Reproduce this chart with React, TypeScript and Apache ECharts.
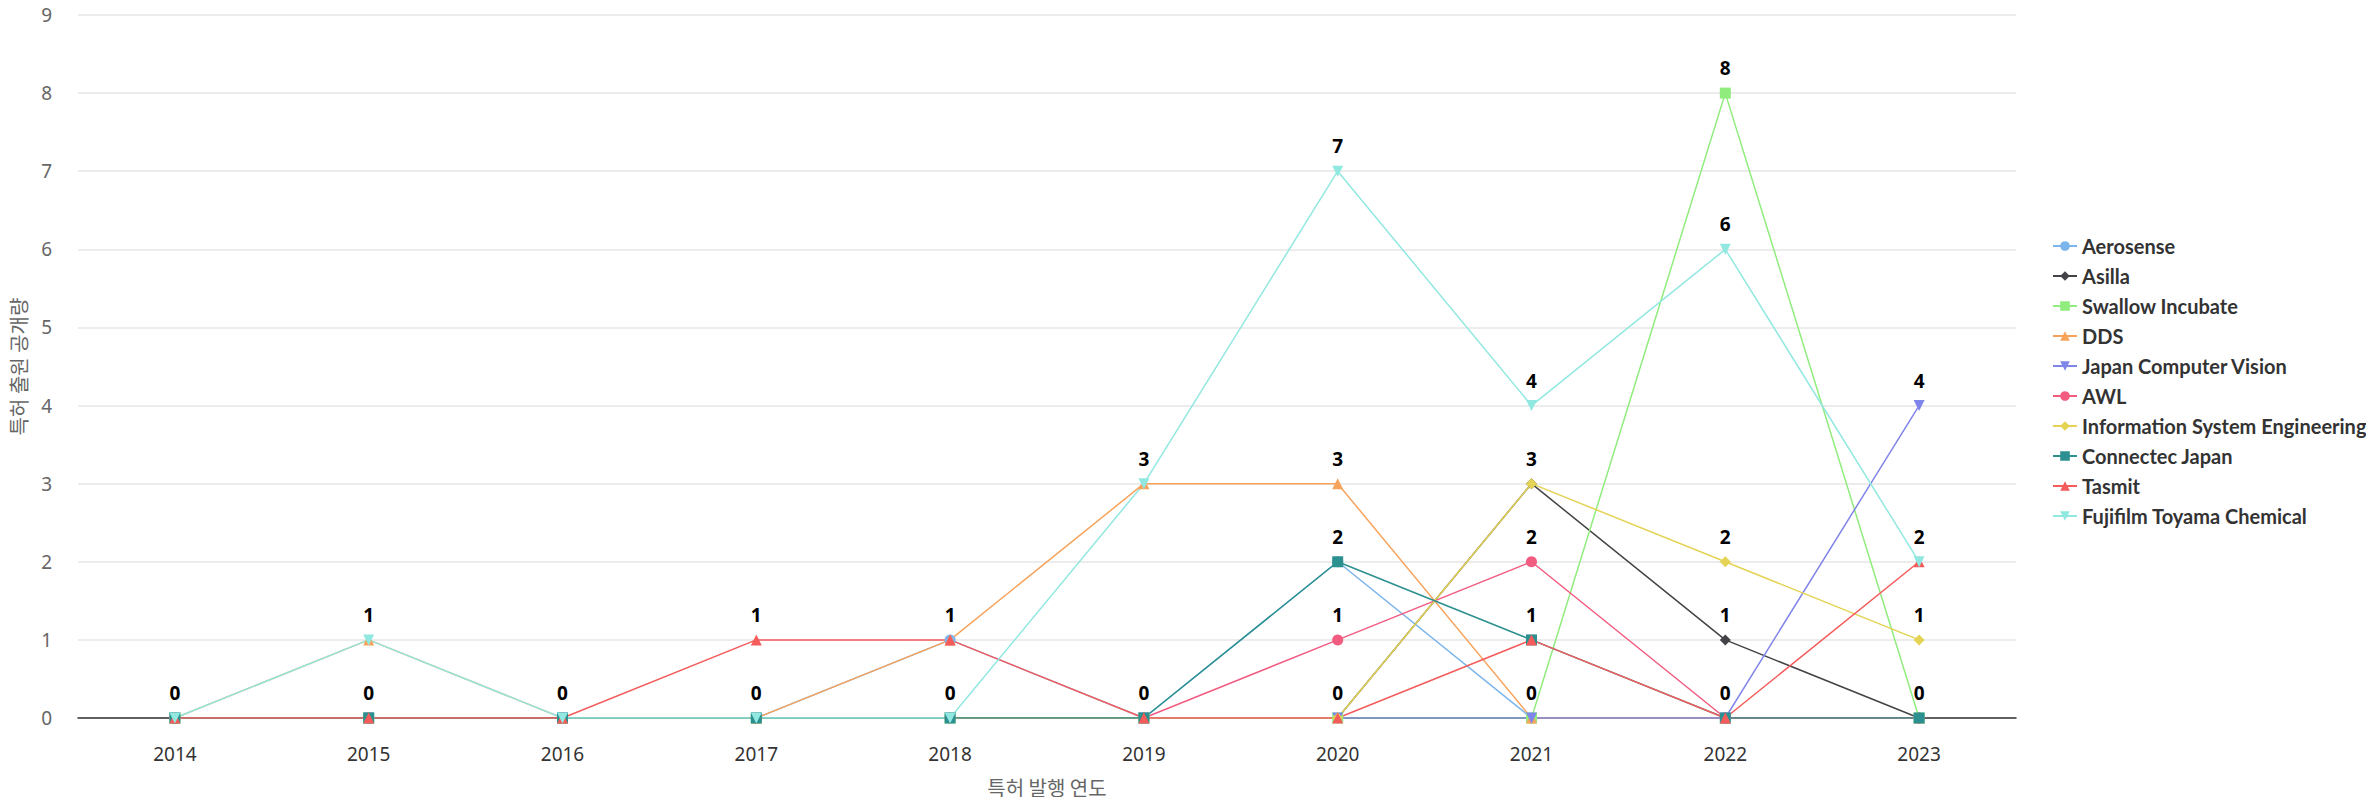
import React, { useEffect, useRef } from "react";
import * as echarts from "echarts";

const years = ["2014", "2015", "2016", "2017", "2018", "2019", "2020", "2021", "2022", "2023"];

const aerosense = [0, 0, 0, 0, 1, 0, 2, 0, 0, 0];
const asilla = [0, 0, 0, 0, 0, 0, 0, 3, 1, 0];
const swallowIncubate = [0, 0, 0, 0, 0, 0, 0, 0, 8, 0];
const dds = [0, 1, 0, 0, 1, 3, 3, 0, 0, 0];
const japanComputerVision = [0, 0, 0, 0, 0, 0, 0, 0, 0, 4];
const awl = [0, 0, 0, 0, 0, 0, 1, 2, 0, 0];
const infoSystemEng = [0, 0, 0, 0, 0, 0, 0, 3, 2, 1];
const connectecJapan = [0, 0, 0, 0, 0, 0, 2, 1, 0, 0];
const tasmit = [0, 0, 0, 1, 1, 0, 0, 1, 0, 2];
const fujifilmToyama = [0, 1, 0, 0, 0, 3, 7, 4, 6, 2];

const seriesNames = [
  "Aerosense",
  "Asilla",
  "Swallow Incubate",
  "DDS",
  "Japan Computer Vision",
  "AWL",
  "Information System Engineering",
  "Connectec Japan",
  "Tasmit",
  "Fujifilm Toyama Chemical",
];
const seriesData = [
  aerosense,
  asilla,
  swallowIncubate,
  dds,
  japanComputerVision,
  awl,
  infoSystemEng,
  connectecJapan,
  tasmit,
  fujifilmToyama,
];
const colors = [
  "#7cb5ec",
  "#434348",
  "#90ed7d",
  "#f7a35c",
  "#8085e9",
  "#f15c80",
  "#e4d354",
  "#2b908f",
  "#f45b5b",
  "#91e8e1",
];
const downTri = "path://M0,0 L10,0 L5,10 Z";
const symbols = ["circle", "diamond", "rect", "triangle", downTri, "circle", "diamond", "rect", "triangle", downTri];

export default function App() {
  const ref = useRef<HTMLDivElement>(null);
  useEffect(() => {
    if (!ref.current) return;
    const chart = echarts.init(ref.current, undefined, { renderer: "svg" });
    chart.setOption({
      animation: false,
      color: colors,
      grid: { left: 78, right: 358, top: 15, bottom: 87, containLabel: false },
      legend: {
        orient: "vertical",
        left: 2047,
        top: 231,
        itemWidth: 24,
        itemHeight: 12,
        itemGap: 10,
        textStyle: { fontSize: 20, fontWeight: "bold", color: "#333333", fontFamily: "Lato" },
        data: seriesNames,
      },
      xAxis: {
        type: "category",
        data: years,
        boundaryGap: true,
        name: "특허 발행 연도",
        nameLocation: "middle",
        nameGap: 59,
        nameTextStyle: { fontSize: 20, color: "#666666", fontFamily: "Noto Sans CJK KR" },
        axisLine: { lineStyle: { color: "#333333", width: 1.5 } },
        axisTick: { show: false },
        axisLabel: { fontSize: 19, color: "#333333", margin: 26, fontFamily: "Noto Sans" },
      },
      yAxis: {
        type: "value",
        min: 0,
        max: 9,
        interval: 1,
        name: "특허 출원 공개량",
        nameLocation: "middle",
        nameGap: 50,
        nameTextStyle: { fontSize: 20, color: "#666666", fontFamily: "Noto Sans CJK KR" },
        axisLine: { show: false },
        axisTick: { show: false },
        axisLabel: { fontSize: 19, color: "#666666", margin: 26, fontFamily: "Noto Sans" },
        splitLine: { lineStyle: { color: "#e6e6e6", width: 1.5 } },
      },
      series: seriesNames.map((name, i) => ({
        name,
        type: "line",
        data: seriesData[i],
        symbol: symbols[i],
        symbolSize: 11,
        showAllSymbol: true,
        lineStyle: { width: 1.5, color: colors[i] },
        itemStyle: { color: colors[i] },
        label: {
          show: true,
          position: "top",
          distance: 10,
          fontSize: 19,
          fontWeight: "bold",
          color: "#000000",
          fontFamily: "Noto Sans",
          textBorderColor: "#ffffff",
          textBorderWidth: 2,
        },
        labelLayout: { hideOverlap: true },
      })),
    });
    return () => chart.dispose();
  }, []);
  return <div ref={ref} style={{ width: 2374, height: 805, margin: -8 }} />;
}
